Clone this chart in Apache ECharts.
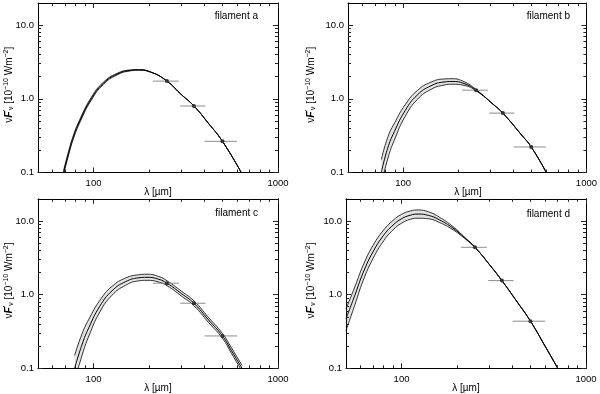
<!DOCTYPE html>
<html><head><meta charset="utf-8">
<script src="https://cdn.jsdelivr.net/npm/echarts@6/dist/echarts.min.js"></script>
<style>html,body{margin:0;padding:0;background:#fff}#c{width:600px;height:394px}</style>
</head><body><div id="c"></div>
<script>
// ---- data ----
const xMajor = [100, 1000];
const xMinor = [60, 70, 80, 90, 200, 300, 400, 500, 600, 700, 800, 900];
const yMajor = [0.1, 1, 10];
const yMinor = [0.2, 0.3, 0.4, 0.5, 0.6, 0.7, 0.8, 0.9, 2, 3, 4, 5, 6, 7, 8, 9];

const pointLam = [250, 350, 500];
const barLo = [210, 295, 400];
const barHi = [290, 405, 600];

// filament a
const lamA = [68.8, 73.2, 77.9, 84.7, 97.2, 113, 134, 158, 175, 203, 250, 295, 350, 420, 500, 632];
const midA = [0.1, 0.182, 0.306, 0.514, 1.0, 1.62, 2.16, 2.43, 2.47, 2.32, 1.74, 1.18, 0.80, 0.464, 0.265, 0.1];
const upA  = [0.106, 0.193, 0.323, 0.54, 1.045, 1.677, 2.214, 2.466, 2.495, 2.332, 1.745, 1.18, 0.80, 0.464, 0.265, 0.1];
const loA  = [0.094, 0.171, 0.29, 0.489, 0.957, 1.565, 2.107, 2.394, 2.445, 2.308, 1.735, 1.18, 0.80, 0.464, 0.265, 0.1];
const fluxA = [1.74, 0.80, 0.265];

// filament b
const lamB = [76, 82.3, 89.5, 102.7, 119.5, 141.7, 167, 185, 214.6, 250, 312, 350, 444, 500, 604];
const midB = [0.1, 0.213, 0.358, 0.697, 1.128, 1.503, 1.692, 1.72, 1.615, 1.31, 0.83, 0.64, 0.32, 0.222, 0.1];
const upB  = [0.15, 0.298, 0.465, 0.836, 1.297, 1.683, 1.861, 1.875, 1.712, 1.336, 0.83, 0.64, 0.32, 0.222, 0.1];
const loB  = [0.067, 0.152, 0.275, 0.581, 0.981, 1.342, 1.538, 1.578, 1.524, 1.284, 0.83, 0.64, 0.32, 0.222, 0.1];
const fluxB = [1.31, 0.64, 0.222];

// filament c
const lamC = [79, 86.8, 94.4, 108.2, 126, 149.4, 176, 195, 226, 250, 300, 350, 420, 500, 560, 638];
const midC = [0.1, 0.213, 0.358, 0.697, 1.128, 1.503, 1.692, 1.72, 1.615, 1.43, 1.03, 0.764, 0.454, 0.275, 0.173, 0.1];
const upC  = [0.15, 0.298, 0.465, 0.836, 1.297, 1.683, 1.861, 1.892, 1.76, 1.544, 1.112, 0.825, 0.49, 0.297, 0.189, 0.11];
const loC  = [0.067, 0.152, 0.275, 0.581, 0.981, 1.342, 1.538, 1.564, 1.482, 1.324, 0.954, 0.707, 0.42, 0.255, 0.159, 0.091];
const fluxC = [1.43, 0.764, 0.275];

// filament d
const lamD = [50, 56, 62, 70, 80, 90, 100, 112, 123, 140, 160, 190, 220, 250, 300, 350, 420, 500, 600, 703];
const midD = [0.47, 1.0, 2.0, 3.8, 6.4, 8.8, 10.7, 12.0, 12.4, 11.9, 10.4, 8.0, 5.9, 4.39, 2.55, 1.55, 0.82, 0.436, 0.2, 0.1];
const upD  = [0.64, 1.3, 2.52, 4.64, 7.55, 10.2, 12.3, 13.7, 14.1, 13.3, 11.3, 8.4, 6.0, 4.39, 2.55, 1.55, 0.82, 0.436, 0.2, 0.1];
const loD  = [0.325, 0.74, 1.56, 3.08, 5.38, 7.57, 9.31, 10.56, 10.9, 10.7, 9.57, 7.6, 5.78, 4.39, 2.55, 1.55, 0.82, 0.436, 0.2, 0.1];
const fluxD = [4.39, 1.55, 0.436];

const names = ['filament a', 'filament b', 'filament c', 'filament d'];

// ---- chart ----
const panels = [
  {lam: lamA, mid: midA, up: upA, lo: loA, flux: fluxA},
  {lam: lamB, mid: midB, up: upB, lo: loB, flux: fluxB},
  {lam: lamC, mid: midC, up: upC, lo: loC, flux: fluxC},
  {lam: lamD, mid: midD, up: upD, lo: loD, flux: fluxD}
];
const grids = [
  {left: 38, top: 3, width: 240, height: 169.5},
  {left: 348, top: 3, width: 240, height: 169.5},
  {left: 38, top: 198.8, width: 240, height: 169.5},
  {left: 346, top: 198.8, width: 240, height: 169.5}
];
// text anchors: [name right x, name y, y-title x]
const textPos = [[258, 16, 9], [570, 16, 311], [258, 213, 9], [570, 214.5, 311]];
const FONT = 'Liberation Sans';
const zip = (a, b) => a.map((v, k) => [v, b[k]]);

const xAxis = [], yAxis = [], series = [], graphic = [];
panels.forEach((p, i) => {
  const bx = {gridIndex: i, type: 'log', logBase: 10, min: 50, max: 1000, splitLine: {show: false}, z: 5};
  const by = {gridIndex: i, type: 'log', logBase: 10, min: 0.1, max: 20, splitLine: {show: false}, z: 5};
  const line = {show: true, lineStyle: {color: '#000', width: 1}};
  const noLine = {show: false};
  const tick = (vals, len) => ({show: true, inside: true, length: len, customValues: vals, lineStyle: {color: '#222', width: 1}});
  const noLab = {show: false};
  xAxis.push(Object.assign({}, bx, {position: 'bottom', axisLine: line, axisTick: tick(xMajor, 5),
    axisLabel: {show: true, customValues: xMajor, formatter: v => String(Math.round(v)), margin: 6, fontSize: 9.5, color: '#000', fontFamily: FONT}}));
  xAxis.push(Object.assign({}, bx, {position: 'bottom', axisLine: noLine, axisTick: tick(xMinor, 3), axisLabel: noLab}));
  xAxis.push(Object.assign({}, bx, {position: 'top', axisLine: line, axisTick: tick(xMajor, 5), axisLabel: noLab}));
  xAxis.push(Object.assign({}, bx, {position: 'top', axisLine: noLine, axisTick: tick(xMinor, 3), axisLabel: noLab}));
  yAxis.push(Object.assign({}, by, {position: 'left', axisLine: line, axisTick: tick(yMajor, 5),
    axisLabel: {show: true, customValues: yMajor, formatter: v => v.toFixed(1), margin: 4, fontSize: 9.5, color: '#000', fontFamily: FONT}}));
  yAxis.push(Object.assign({}, by, {position: 'left', axisLine: noLine, axisTick: tick(yMinor, 3), axisLabel: noLab}));
  yAxis.push(Object.assign({}, by, {position: 'right', axisLine: line, axisTick: tick(yMajor, 5), axisLabel: noLab}));
  yAxis.push(Object.assign({}, by, {position: 'right', axisLine: noLine, axisTick: tick(yMinor, 3), axisLabel: noLab}));

  const ax = {xAxisIndex: 4 * i, yAxisIndex: 4 * i};
  series.push(Object.assign({type: 'line', data: zip(p.lam, p.up), smooth: true, symbol: 'none', silent: true,
    lineStyle: {color: '#000', width: 0.8}, areaStyle: {color: '#e2e2e2', opacity: 1, origin: 'start'}, z: 2}, ax));
  series.push(Object.assign({type: 'line', data: zip(p.lam, p.lo), smooth: true, symbol: 'none', silent: true,
    lineStyle: {color: '#000', width: 0.8}, areaStyle: {color: '#fff', opacity: 1, origin: 'start'}, z: 2}, ax));
  series.push(Object.assign({type: 'line', data: zip(p.lam, p.mid), smooth: true, symbol: 'none', silent: true,
    lineStyle: {color: '#000', width: 1}, z: 2}, ax));
  series.push(Object.assign({type: 'custom', z: 3, silent: true,
    data: pointLam.map((l, k) => [l, p.flux[k], barLo[k], barHi[k]]),
    encode: {x: 0, y: 1},
    renderItem: (params, api) => {
      const y = api.value(1);
      const c = api.coord([api.value(0), y]);
      const a = api.coord([api.value(2), y]);
      const b = api.coord([api.value(3), y]);
      return {type: 'group', children: [
        {type: 'line', shape: {x1: a[0], y1: a[1], x2: b[0], y2: b[1]}, style: {stroke: '#8c8c8c', lineWidth: 1}},
        {type: 'circle', shape: {cx: c[0], cy: c[1], r: 2}, style: {fill: '#333'}}
      ]};
    }}, ax));

  const g = grids[i], t = textPos[i];
  graphic.push({type: 'text', x: t[0], y: t[1], style: {text: names[i], align: 'right', verticalAlign: 'middle', font: '10px ' + FONT, fill: '#000'}});
  graphic.push({type: 'text', x: g.left + g.width / 2, y: g.top + g.height + 20, style: {text: 'λ [µm]', align: 'center', verticalAlign: 'middle', font: '10px ' + FONT, fill: '#000'}});
  graphic.push({type: 'text', x: t[2], y: g.top + g.height / 2 - 3, rotation: Math.PI / 2,
    style: {text: '{n|ν}{f|F}{s|′}{b|ν}{n| [10}{s|−10}{n| Wm}{s|−2}{n|]}', align: 'center', verticalAlign: 'middle',
      rich: {
        n: {fontSize: 10, fontFamily: FONT, fill: '#000', verticalAlign: 'middle'},
        f: {fontSize: 10.5, fontFamily: FONT, fontStyle: 'italic', fontWeight: 'bold', fill: '#000'},
        s: {fontSize: 7, fontFamily: FONT, fill: '#000', verticalAlign: 'top', padding: [0, 0, 5, 0]},
        b: {fontSize: 7, fontFamily: FONT, fill: '#000', verticalAlign: 'bottom', padding: [4, 0, 0, 0]}
      }}});
});

const chart = echarts.init(document.getElementById('c'), null, {renderer: 'canvas', width: 600, height: 394});
chart.setOption({animation: false, backgroundColor: '#fff', grid: grids, xAxis, yAxis, series, graphic});
</script>
</body></html>
